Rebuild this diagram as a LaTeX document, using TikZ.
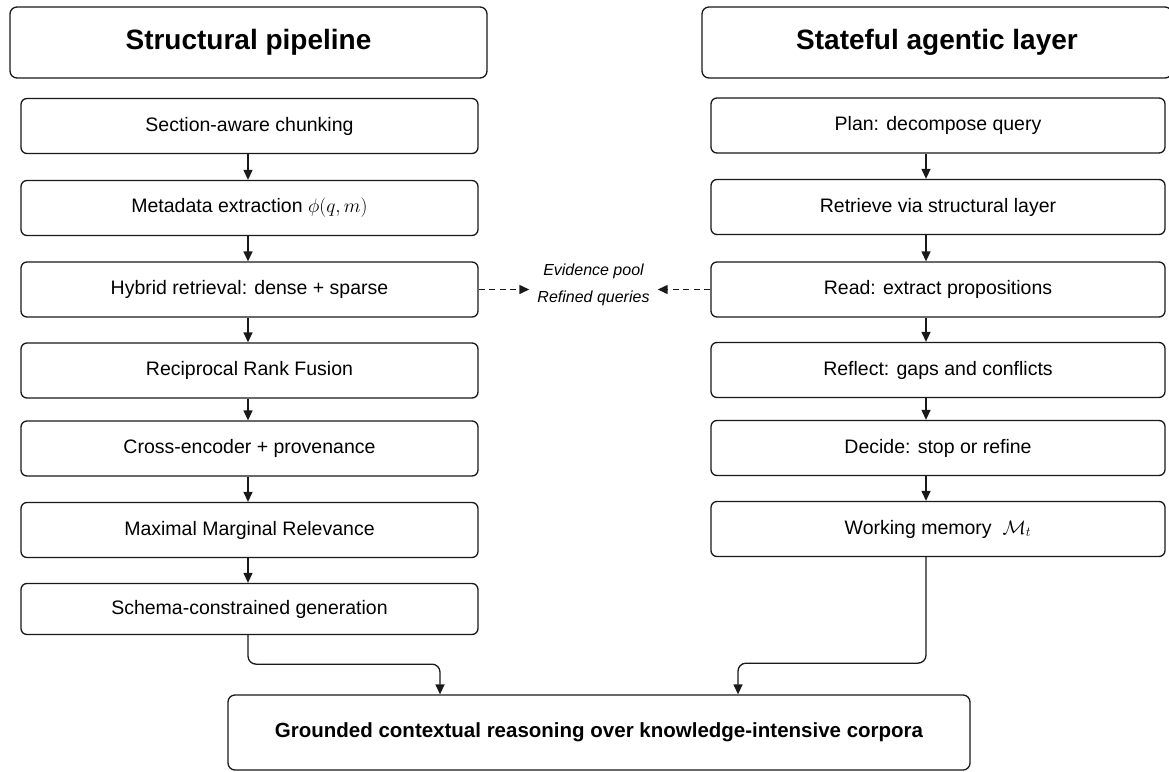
\documentclass[tikz,border=0pt]{standalone}
\usepackage{fix-cm}
\usepackage{fontspec}
\setmainfont{Liberation Sans}
\usetikzlibrary{arrows.meta,calc}

\begin{document}
\begin{tikzpicture}[x=1pt,y=-1pt,
  every node/.style={font=\fontsize{19.5}{23}\selectfont, text=black},
  header/.style={draw=black!90, line width=1.3pt, rounded corners=7pt,
    minimum height=71pt, font=\fontsize{28}{32}\selectfont\bfseries},
  stepbox/.style={draw=black!90, line width=1.3pt, rounded corners=6pt,
    minimum height=55pt},
  finalbox/.style={draw=black!90, line width=1.3pt, rounded corners=7pt,
    minimum width=742pt, minimum height=75pt, font=\fontsize{20.5}{24}\selectfont\bfseries},
  arr/.style={draw=black!90, line width=1.3pt, -{Triangle[length=10pt,width=9pt]}},
  darr/.style={arr, line width=1.5pt, dash pattern=on 6pt off 4.5pt},
  note/.style={align=center, font=\fontsize{16}{27}\selectfont\itshape, inner xsep=8pt}
]
\useasboundingbox (0,0) rectangle (1169,771);

% column headers
\node[header, minimum width=477pt] (hl) at (248.5,42.5) {Structural pipeline};
\node[header, minimum width=470pt] (hr) at (937,42.5) {Stateful agentic layer};

% structural pipeline
\tikzset{lcol/.style={stepbox, minimum width=457pt}}
\node[lcol] (s1) at (249.5,126)   {Section-aware chunking};
\node[lcol] (s2) at (249.5,208)   {Metadata extraction \(\phi(q,m)\)};
\node[lcol] (s3) at (249.5,289.5) {Hybrid retrieval: dense + sparse};
\node[lcol] (s4) at (249.5,370.5) {Reciprocal Rank Fusion};
\node[lcol] (s5) at (249.5,448.5) {Cross-encoder + provenance};
\node[lcol] (s6) at (249.5,530)   {Maximal Marginal Relevance};
\node[lcol, minimum height=51pt] (s7) at (249.5,609) {Schema-constrained generation};

% agentic layer
\tikzset{rcol/.style={stepbox, minimum width=454pt}}
\node[rcol] (r1) at (938,125.5) {Plan: decompose query};
\node[rcol] (r2) at (938,207)   {Retrieve via structural layer};
\node[rcol] (r3) at (938,289.5) {Read: extract propositions};
\node[rcol] (r4) at (938,370)   {Reflect: gaps and conflicts};
\node[rcol] (r5) at (938,448)   {Decide: stop or refine};
\node[rcol] (r6) at (938,529)   {Working memory\ \ \(\mathcal{M}_t\)};

% shared evidence between the two columns
\node[note] (pool) at (593.5,284.5) {Evidence pool\\Refined queries};

% final outcome
\node[finalbox] (fin) at (599,732.5) {Grounded contextual reasoning over knowledge-intensive corpora};

% pipeline arrows
\foreach \a/\b in {s1/s2,s2/s3,s3/s4,s4/s5,s5/s6,s6/s7}
  \draw[arr] ([xshift=-1.5pt]\a.south) -- ([xshift=-1.5pt]\b.north);
\foreach \a/\b in {r1/r2,r2/r3,r3/r4,r4/r5,r5/r6}
  \draw[arr] ([xshift=-12pt]\a.south) -- ([xshift=-12pt]\b.north);

% dashed exchange
\draw[darr] (s3.east) -- (s3.east -| pool.west);
\draw[darr] (r3.west) -- (r3.west -| pool.east);

% merge into the final box
\draw[arr, rounded corners=8pt] ([xshift=-1.5pt]s7.south) -- ++(0,29) -| ([xshift=-159pt]fin.north);
\draw[arr, rounded corners=8pt] ([xshift=-12pt]r6.south) -- ++(0,106) -| ([xshift=139pt]fin.north);
\end{tikzpicture}
\end{document}
